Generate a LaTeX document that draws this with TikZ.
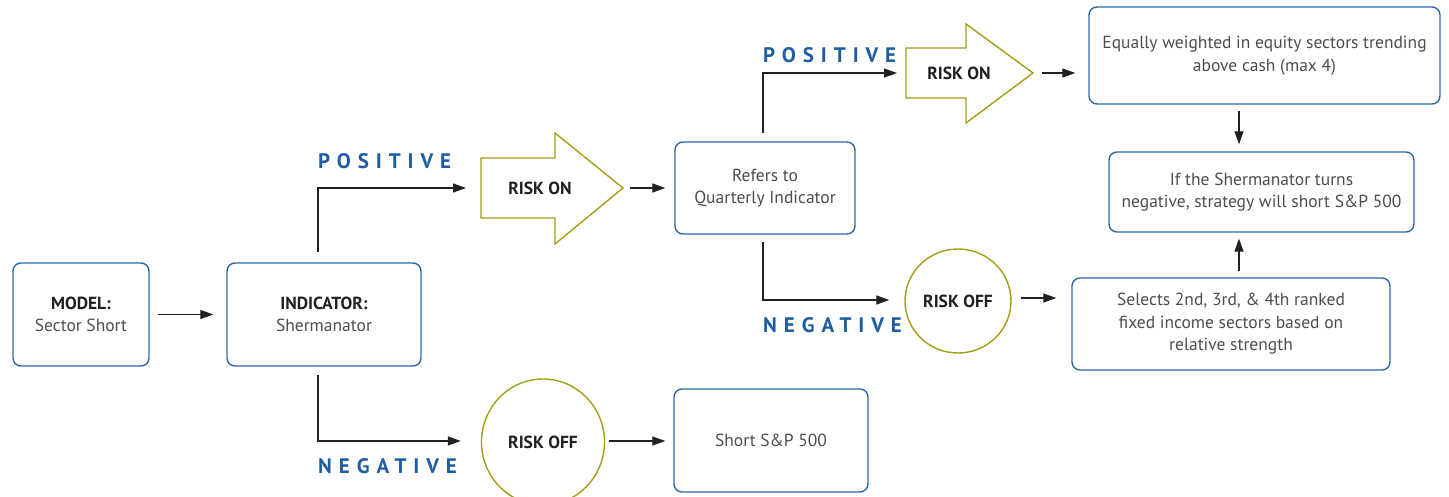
\documentclass[tikz,border=0pt]{standalone}
\usepackage{fontspec}
\setmainfont{PT Sans}
\newfontfamily\spacedfont[LetterSpace=33]{PT Sans}
\usetikzlibrary{arrows.meta,shapes.geometric,calc}
\definecolor{boxblue}{HTML}{2D67A9}
\definecolor{labblue}{HTML}{1F5DA0}
\definecolor{olive}{HTML}{A59E17}
\definecolor{txt}{HTML}{4D4D4D}
\definecolor{dark}{HTML}{231F20}
\begin{document}
\begin{tikzpicture}[x=1pt,y=-1pt,
 box/.style={draw=boxblue,line width=1.4pt,rounded corners=8pt,align=center,font=\fontsize{17.5}{22.5}\selectfont,text=txt,inner sep=0pt},
 arr/.style={draw=dark,line width=1.2pt,-{Triangle[length=13pt,width=9pt]}},
 riskarrow/.style={draw=olive,line width=1.4pt},
 riskcirc/.style={draw=olive,line width=1.4pt,ellipse,inner sep=0pt},
 risktxt/.style={font=\fontsize{17.5}{20}\selectfont\bfseries,text=dark},
 lab/.style={font=\fontsize{21}{24}\spacedfont\bfseries,text=labblue,anchor=west,inner sep=0pt}
]
\useasboundingbox (0,0) rectangle (1449,497);

% boxes
\node[box,minimum width=136pt,minimum height=103pt] (model) at (81,314.5) {{\bfseries\color{dark}MODEL:}\\Sector Short};
\node[box,minimum width=194pt,minimum height=103pt] (ind) at (324,314.5) {{\bfseries\color{dark}INDICATOR:}\\Shermanator};
\node[box,minimum width=180pt,minimum height=92pt] (ref) at (765,188) {Refers to\\Quarterly Indicator};
\node[box,minimum width=351pt,minimum height=97pt] (eq) at (1264.5,55.5) {Equally weighted in equity sectors trending\\above cash (max 4)};
\node[box,minimum width=305pt,minimum height=80pt] (if) at (1261.5,192) {If the Shermanator turns\\negative, strategy will short S\&P 500};
\node[box,minimum width=318pt,minimum height=92pt] (sel) at (1231,324) {Selects 2nd, 3rd, \& 4th ranked\\fixed income sectors based on\\relative strength};
\node[box,minimum width=194pt,minimum height=103pt] (short) at (771,440.5) {Short S\&P 500};

% risk on arrows
\draw[riskarrow] (481,158) -- (555,158) -- (555,133) -- (623,188) -- (555,244) -- (555,218) -- (481,218) -- cycle;
\node[risktxt] (ron1) at (540,188) {RISK ON};
\coordinate (ron1w) at (481,188);
\coordinate (ron1e) at (623,188);
\draw[riskarrow] (906,48) -- (966,48) -- (966,24) -- (1033,73) -- (966,123) -- (966,98) -- (906,98) -- cycle;
\node[risktxt] (ron2) at (959,73) {RISK ON};
\coordinate (ron2w) at (906,73);
\coordinate (ron2e) at (1033,73);

% risk off circles
\node[riskcirc,risktxt,minimum width=106pt,minimum height=104pt] (roff1) at (958,301) {RISK OFF};
\node[riskcirc,risktxt,minimum width=123pt,minimum height=126pt] (roff2) at (543,442) {RISK OFF};

% labels
\node[lab] (pos1) at (318,161) {POSITIVE};
\node[lab] (pos2) at (763,55) {POSITIVE};
\node[lab] (neg1) at (763,325) {NEGATIVE};
\node[lab] (neg2) at (318,466) {NEGATIVE};

% connectors
\coordinate (j1) at (318,252);
\coordinate (j2) at (763,133);
\coordinate (j3) at (763,242);
\coordinate (j4) at (318,375);
\draw[arr,shorten <=8pt,shorten >=13pt] (model) -- (ind);
\draw[arr,shorten >=15pt] (j1) |- (ron1w);
\draw[arr,shorten <=7pt,shorten >=9pt] (ron1e) -- (ref.west |- ron1e);
\draw[arr,shorten >=9pt] (j2) |- (ron2w);
\draw[arr,shorten <=9pt,shorten >=13pt] (ron2e) -- (eq.west |- ron2e);
\draw[arr,shorten <=6pt,shorten >=7pt] ($(eq.south)+(-25.5,0)$) -- ($(if.north)+(-22.5,0)$);
\draw[arr,shorten <=6pt,shorten >=6pt] ($(sel.north)+(8,0)$) -- ($(if.south)+(-22.5,0)$);
\draw[arr,shorten >=15pt] (j3) |- ($(roff1.west)+(0,-1)$);
\draw[arr,shorten <=9pt,shorten >=15pt] ($(roff1.east)+(0,-3)$) -- ($(sel.west)+(0,-26)$);
\draw[arr,shorten >=20pt] (j4) |- ($(roff2.west)+(0,-1)$);
\draw[arr,shorten <=4pt,shorten >=8pt] ($(roff2.east)+(0,-1)$) -- ($(short.west)+(0,0.5)$);
\end{tikzpicture}
\end{document}
